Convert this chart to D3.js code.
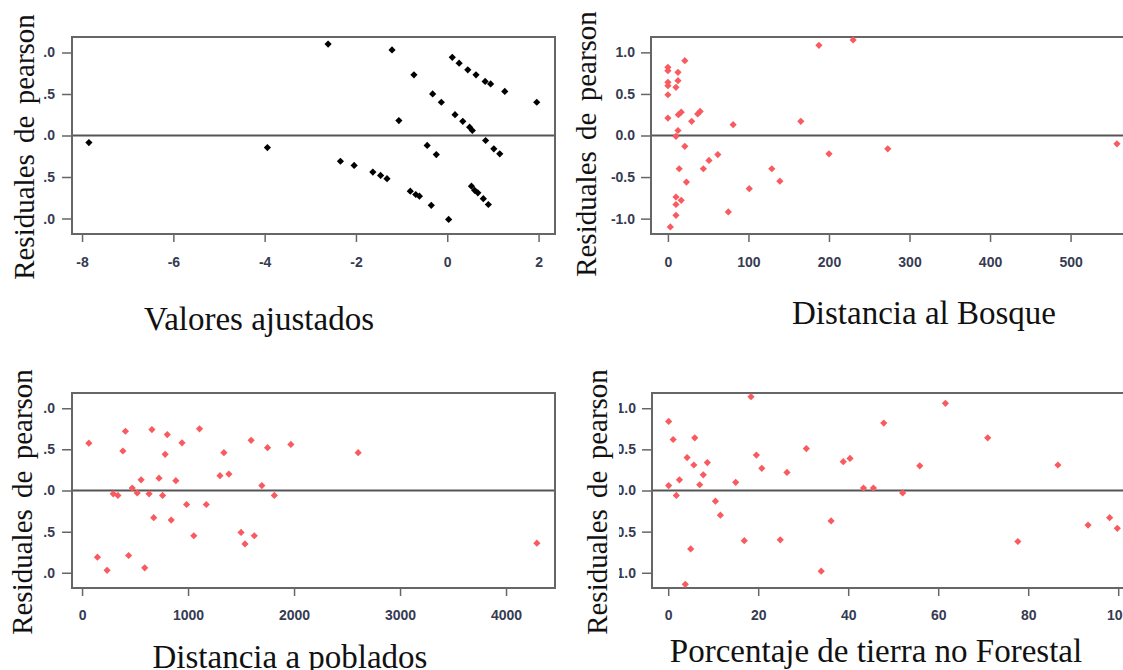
<!DOCTYPE html>
<html>
<head>
<meta charset="utf-8">
<script src="https://cdn.jsdelivr.net/npm/d3@7"></script>
<style>
  body { margin: 0; background: #fff; }
  svg { display: block; }
  .tick text { font-family: "Liberation Sans Narrow", "Arial Narrow", "Liberation Sans", sans-serif; font-size: 14px; fill: #363b52; font-weight: bold; }
  .titulo { font-family: "Liberation Serif", "Times New Roman", serif; fill: #111; }
</style>
</head>
<body>
<svg id="chart" width="1123" height="670"></svg>
<script>
// Residuales de pearson vs valores ajustados
const ajustadosX = [-7.85, -3.94, -2.61, -1.21, 0.11, 0.26, 0.45, 0.63, 0.83, 0.95, 1.26, 1.96,
    -0.73, -0.32, -0.13, 0.17, 0.34, 0.49, 0.55, -1.06, 0.84, 1.02, 1.15, -0.44, -0.24,
    -2.34, -2.04, -1.63, -1.46, -1.32, -0.81, -0.69, -0.61, -0.35, 0.03, 0.53, 0.60, 0.67, 0.79, 0.90];
const ajustadosRes = [-0.085, -0.145, 1.10, 1.03, 0.94, 0.87, 0.79, 0.73, 0.65, 0.62, 0.53, 0.40,
    0.73, 0.50, 0.40, 0.25, 0.17, 0.10, 0.06, 0.18, -0.06, -0.16, -0.22, -0.12, -0.23,
    -0.31, -0.36, -0.44, -0.48, -0.52, -0.67, -0.71, -0.73, -0.84, -1.01, -0.61, -0.66, -0.69, -0.76, -0.83];

// Distancia al bosque
const bosqueX = [0, 0, 0, 0, 0, 0, 21, 12.5, 12.5, 10, 13, 16.5, 29.5, 37, 40, 12.5, 10, 21, 14, 23,
    10, 16.5, 10, 10, 3, 44, 51, 62, 81, 75, 101, 129, 139, 165, 187.5, 230, 200, 273, 557.6];
const bosqueRes = [0.82, 0.78, 0.64, 0.60, 0.49, 0.21, 0.90, 0.76, 0.66, 0.58, 0.25, 0.28, 0.17, 0.26, 0.29, 0.06, -0.01, -0.13, -0.40, -0.56,
    -0.74, -0.78, -0.83, -0.96, -1.10, -0.40, -0.30, -0.23, 0.13, -0.92, -0.64, -0.40, -0.55, 0.17, 1.085, 1.15, -0.22, -0.16, -0.10];

// Distancia a poblados
const pobladosX = [64, 145, 236, 294, 338, 385, 409, 439, 473, 520, 557, 591, 632, 659, 676, 726, 760, 784, 804, 841,
    885, 943, 986, 1054, 1108, 1172, 1301, 1338, 1385, 1500, 1537, 1595, 1625, 1696, 1750, 1814, 1970, 2605, 4291];
const pobladosRes = [0.575, -0.81, -0.97, -0.04, -0.06, 0.48, 0.72, -0.79, 0.03, -0.03, 0.13, -0.94, -0.04, 0.74, -0.33, 0.15, -0.06, 0.44, 0.68, -0.36,
    0.12, 0.58, -0.17, -0.55, 0.75, -0.17, 0.18, 0.46, 0.20, -0.51, -0.65, 0.61, -0.55, 0.06, 0.52, -0.06, 0.56, 0.46, -0.64];

// Porcentaje de tierra no forestal
const tierraX = [0.1, 0.1, 1.1, 1.8, 2.5, 3.8, 4.2, 5.0, 5.7, 5.9, 7.0, 7.8, 8.7, 10.5, 11.6, 15.0, 16.9, 18.4, 19.6, 20.8,
    24.9, 26.4, 30.7, 34.0, 36.2, 38.9, 40.4, 43.4, 45.6, 47.9, 52.1, 55.9, 61.6, 71.0, 77.7, 86.6, 93.3, 98.1, 99.8];
const tierraRes = [0.84, 0.06, 0.62, -0.06, 0.13, -1.14, 0.40, -0.71, 0.31, 0.64, 0.07, 0.19, 0.34, -0.13, -0.30, 0.10, -0.61, 1.14, 0.43, 0.27,
    -0.60, 0.22, 0.51, -0.98, -0.37, 0.35, 0.39, 0.03, 0.03, 0.82, -0.03, 0.30, 1.06, 0.64, -0.62, 0.31, -0.42, -0.33, -0.46];

const ticksRes = [-1, -0.5, 0, 0.5, 1];
const ticksAjustados = [-8, -6, -4, -2, 0, 2];
const ticksBosque = [0, 100, 200, 300, 400, 500];
const ticksPoblados = [0, 1000, 2000, 3000, 4000];
const ticksTierra = [0, 20, 40, 60, 80, 100];

const yLabel = 'Residuales de pearson';
const resDomain = [-1.185, 1.185];

const panels = [
    { xs: ajustadosX, ys: ajustadosRes, color: '#000', ticks: ticksAjustados, domain: [-8.22, 2.36],
      left: 72, right: 555, top: 37, bottom: 234, yPad: 7, xPad: 15, clipLeft: 43.5,
      title: 'Valores ajustados', titleX: 259, titleY: 330, labX: 34, labY: 147 },
    { xs: bosqueX, ys: bosqueRes, color: '#f85a5f', ticks: ticksBosque, domain: [-21, 580],
      left: 651, right: 1135, top: 37, bottom: 234, yPad: 6, xPad: 15, clipLeft: 560,
      title: 'Distancia al Bosque', titleX: 924, titleY: 324, labX: 596, labY: 144 },
    { xs: pobladosX, ys: pobladosRes, color: '#f85a5f', ticks: ticksPoblados, domain: [-95, 4462],
      left: 72, right: 555, top: 393, bottom: 588, yPad: 7, xPad: 14, clipLeft: 43.5,
      title: 'Distancia a poblados', titleX: 290, titleY: 668, labX: 32, labY: 502 },
    { xs: tierraX, ys: tierraRes, color: '#f85a5f', ticks: ticksTierra, domain: [-3.6, 104.4],
      left: 652, right: 1138, top: 393, bottom: 588, yPad: 6, xPad: 14, clipLeft: 619,
      title: 'Porcentaje de tierra no Forestal', titleX: 876, titleY: 662, labX: 607, labY: 502 }
];

const svg = d3.select('#chart');
svg.append('rect').attr('width', 1123).attr('height', 670).attr('fill', '#fff');

panels.forEach((p, i) => drawPanel(p, i));

function drawPanel(p, i) {
    const x = d3.scaleLinear().domain(p.domain).range([p.left, p.right]);
    const y = d3.scaleLinear().domain(resDomain).range([p.bottom, p.top]);

    // recorte de las etiquetas del eje y (coordenadas del grupo trasladado)
    svg.append('clipPath').attr('id', 'clip' + i)
        .append('rect')
        .attr('x', p.clipLeft - p.left).attr('y', p.top - 20)
        .attr('width', p.left - p.clipLeft + 2).attr('height', p.bottom - p.top + 40);

    const gy = svg.append('g')
        .attr('transform', `translate(${p.left},0)`)
        .attr('clip-path', `url(#clip${i})`)
        .call(d3.axisLeft(y).tickValues(ticksRes).tickFormat(d => d.toFixed(1)).tickSize(10).tickPadding(p.yPad));
    gy.select('.domain').remove();
    gy.selectAll('.tick line').attr('stroke', '#666').attr('stroke-width', 1.5);

    const gx = svg.append('g')
        .attr('transform', `translate(0,${p.bottom})`)
        .call(d3.axisBottom(x).tickValues(p.ticks).tickFormat(d => String(d)).tickSize(8).tickPadding(p.xPad));
    gx.select('.domain').remove();
    gx.selectAll('.tick line').attr('stroke', '#666').attr('stroke-width', 1.5);

    // linea de cero
    svg.append('line')
        .attr('x1', p.left).attr('x2', p.right)
        .attr('y1', y(0)).attr('y2', y(0))
        .attr('stroke', '#555').attr('stroke-width', 2);

    svg.append('rect')
        .attr('x', p.left).attr('y', p.top)
        .attr('width', p.right - p.left).attr('height', p.bottom - p.top)
        .attr('fill', 'none').attr('stroke', '#666').attr('stroke-width', 2);

    const sym = d3.symbol().type(d3.symbolSquare).size(26);
    svg.append('g').selectAll('path')
        .data(p.xs.map((v, k) => [v, p.ys[k]]))
        .enter().append('path')
        .attr('d', sym)
        .attr('transform', d => `translate(${x(d[0])},${y(d[1])}) rotate(45)`)
        .attr('fill', p.color);

    svg.append('text').attr('class', 'titulo')
        .attr('x', p.titleX).attr('y', p.titleY)
        .attr('text-anchor', 'middle').attr('font-size', 33)
        .text(p.title);

    svg.append('text').attr('class', 'titulo')
        .attr('transform', `translate(${p.labX},${p.labY}) rotate(-90)`)
        .attr('text-anchor', 'middle').attr('font-size', 29)
        .attr('word-spacing', 4)
        .text(yLabel);
}
</script>
</body>
</html>
